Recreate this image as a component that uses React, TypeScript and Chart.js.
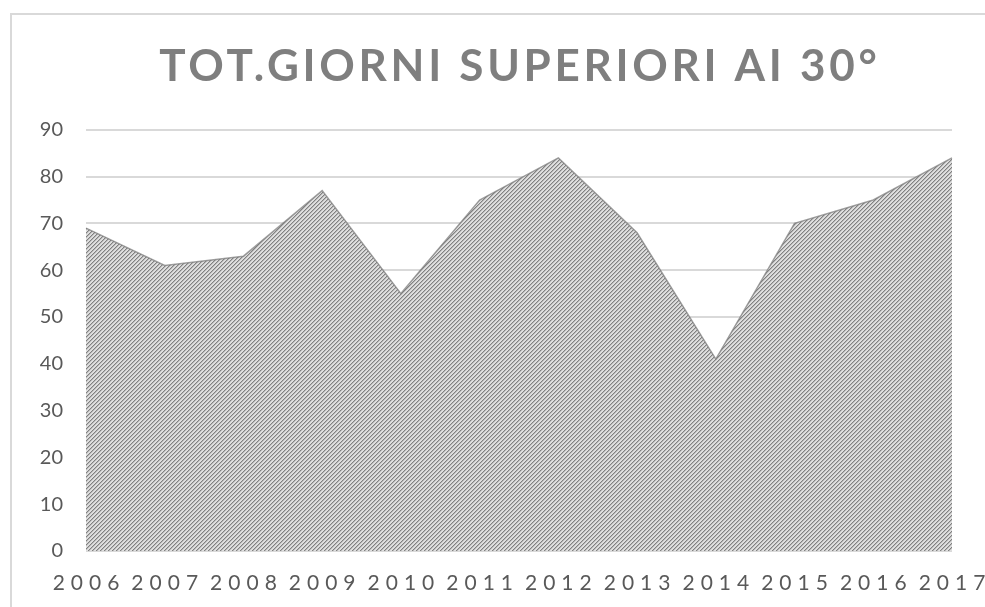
import React, { useEffect, useRef } from "react";
import { Chart, registerables } from "chart.js";

Chart.register(...registerables);

const titleText = "TOT.GIORNI SUPERIORI AI 30°";
const years = ["2006", "2007", "2008", "2009", "2010", "2011", "2012", "2013", "2014", "2015", "2016", "2017"];
const hotDays = [69, 61, 63, 77, 55, 75, 84, 68, 41, 70, 75, 84];
const yMin = 0;
const yMax = 90;
const yStep = 10;

function makePattern(): CanvasPattern | string {
  const c = document.createElement("canvas");
  const n = 4;
  c.width = n;
  c.height = n;
  const g = c.getContext("2d");
  if (!g) return "#a8a8a8";
  g.fillStyle = "#dedede";
  g.fillRect(0, 0, n, n);
  for (let i = 0; i < n; i++) {
    g.fillStyle = "#808080";
    g.fillRect(i, n - 1 - i, 1, 1);
    g.fillStyle = "#b8b8b8";
    g.fillRect((i + 1) % n, n - 1 - i, 1, 1);
  }
  const p = g.createPattern(c, "repeat");
  return p || "#a8a8a8";
}

const spacingPlugin = {
  id: "xLetterSpacing",
  beforeDraw(chart: any) {
    const sx = chart.scales.x;
    if (sx && !sx.__patched) {
      const orig = Object.getPrototypeOf(sx).drawLabels;
      sx.drawLabels = function (area: any) {
        const ctx = this.ctx;
        ctx.save();
        (ctx as any).letterSpacing = "6px";
        ctx.translate(3, 14.4);
        orig.call(this, area);
        ctx.restore();
      };
      sx.__patched = true;
    }
    const tb = chart.titleBlock;
    if (tb && !tb.__patched) {
      const origT = Object.getPrototypeOf(tb).draw;
      tb.draw = function () {
        const ctx = this.ctx;
        ctx.save();
        (ctx as any).letterSpacing = "3.7px";
        ctx.translate(37.8, 0);
        origT.call(this);
        ctx.restore();
      };
      tb.__patched = true;
    }
  },
};

export default function App() {
  const ref = useRef<HTMLCanvasElement>(null);
  useEffect(() => {
    if (!ref.current) return;
    const chart = new Chart(ref.current, {
      type: "line",
      data: {
        labels: years,
        datasets: [
          {
            label: titleText,
            data: hotDays,
            fill: "origin",
            backgroundColor: makePattern() as any,
            borderColor: "rgba(120,120,120,0.7)",
            borderWidth: 1.5,
            pointRadius: 0,
            tension: 0,
          },
        ],
      },
      options: {
        animation: false,
        responsive: true,
        maintainAspectRatio: false,
        layout: { padding: { left: 0, right: 72, top: 0, bottom: 20.8 } },
        plugins: {
          legend: { display: false },
          tooltip: { enabled: false },
          title: {
            display: true,
            text: titleText,
            color: "#7f7f7f",
            font: { family: "Lato", size: 44, weight: "bold", lineHeight: 1.2 },
            padding: { top: 25, bottom: 37 },
          },
        },
        scales: {
          x: {
            offset: false,
            grid: { display: false, drawTicks: false },
            border: { display: false },
            ticks: {
              color: "#595959",
              font: { family: "Lato", size: 21 },
              padding: 5,
              maxRotation: 0,
              autoSkip: false,
            },
          },
          y: {
            min: yMin,
            max: yMax,
            grid: { color: "#d9d9d9", lineWidth: 2, drawTicks: false },
            border: { display: false },
            ticks: {
              stepSize: yStep,
              color: "#595959",
              font: { family: "Lato", size: 20 },
              padding: 23,
            },
            afterFit: (s: any) => {
              s.width = 74;
            },
          },
        },
      },
      plugins: [spacingPlugin],
    });
    return () => chart.destroy();
  }, []);
  return (
    <div
      style={{
        position: "fixed",
        left: 10,
        top: 13,
        borderLeft: "2px solid #d9d9d9",
        borderTop: "2px solid #d9d9d9",
        background: "#fff",
      }}
    >
      <div style={{ position: "relative", width: 1012, height: 592 }}>
        <canvas ref={ref} style={{ display: "block" }} />
      </div>
    </div>
  );
}
